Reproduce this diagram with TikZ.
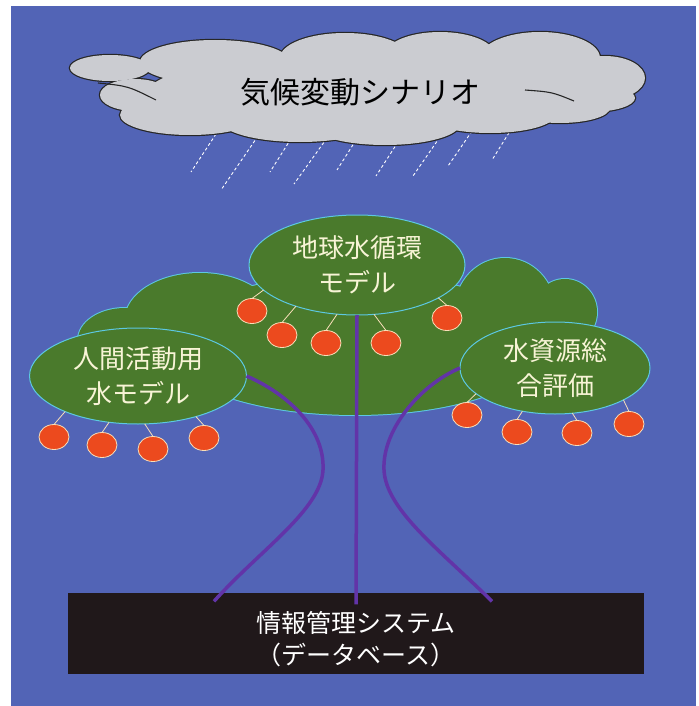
\documentclass[tikz,border=0pt]{standalone}
\usepackage{fontspec}
\newfontfamily\jpfont{Noto Sans CJK JP}
\usetikzlibrary{shapes.geometric}

\definecolor{bgblue}{RGB}{82,100,182}
\definecolor{leaf}{RGB}{74,122,44}
\definecolor{rim}{RGB}{92,200,226}
\definecolor{cloudgray}{RGB}{203,204,209}
\definecolor{bark}{RGB}{98,52,168}
\definecolor{fruit}{RGB}{236,74,30}
\definecolor{peel}{RGB}{248,222,184}
\definecolor{cream}{RGB}{248,244,214}
\definecolor{dbfill}{RGB}{32,24,26}

% lobes of the cloud and of the tree top: x/y/x radius/y radius
\newcommand\cloudlobes{110/68/40/13, 135/95/35/16, 215/62/75/22, 345/58/65/25,
	440/55/55/23, 540/58/60/26, 605/78/40/22, 590/98/45/14, 190/115/70/20,
	300/120/80/22, 385/124/75/21, 490/115/65/18, 560/108/50/15, 370/90/220/35}
\newcommand\leaflobes{125/340/47/32, 200/320/75/47, 355/345/190/70,
	505/310/50/52, 565/312/32/33, 540/345/50/35}

\begin{document}
\begin{tikzpicture}[x=1pt,y=-1pt,
	model/.style={ellipse, draw=rim, line width=1pt, fill=leaf, inner sep=0, outer sep=0, text=cream, font=\jpfont\fontsize{26}{35}\selectfont, align=center},
	apple/.style={ellipse, draw=peel, line width=0.8pt, fill=fruit, minimum width=30pt, minimum height=25pt, inner sep=0, outer sep=0},
	stem/.style={draw=peel, line width=0.8pt},
	trunk/.style={draw=bark, line width=3.5pt},
	rain/.style={white, line width=0.9pt, dash pattern=on 3pt off 2.5pt},
	dbase/.style={rectangle, fill=dbfill, minimum width=576pt, minimum height=81pt, inner sep=0},
	dbtext/.style={text=white, font=\jpfont\fontsize{25}{32}\selectfont, align=center}]

		\useasboundingbox (0,0) rectangle (698,706);
		\fill[bgblue] (11,6) rectangle (696,706);

		%rain
		\foreach \xa/\ya/\xb/\yb in {216/134/191/172, 258/136/221/190, 294/134/270/172,
			327/138/294/184, 356/140/337/170, 398/142/376/176, 440/137/413/176,
			472/131/448/166, 512/128/492/160} {
			\draw[rain] (\xa,\ya) -- (\xb,\yb);
		}

		%cloud
		\foreach \x/\y/\a/\b in \cloudlobes {
			\draw[black!85, line width=2.4pt] (\x,\y) ellipse [x radius=\a pt, y radius=\b pt];
		}
		\foreach \x/\y/\a/\b in \cloudlobes {
			\fill[cloudgray] (\x,\y) ellipse [x radius=\a pt, y radius=\b pt];
		}
		\draw[black!85, line width=1.1pt] (98,83) .. controls (128,86) .. (156,100);
		\draw[black!85, line width=1.1pt] (525,90) .. controls (552,92) .. (574,101);
		\node[font=\jpfont\fontsize{30}{30}\selectfont] at (360,92) (scen) {気候変動シナリオ};

		%tree top
		\foreach \x/\y/\a/\b in \leaflobes {
			\draw[rim, line width=2pt] (\x,\y) ellipse [x radius=\a pt, y radius=\b pt];
		}
		\foreach \x/\y/\a/\b in \leaflobes {
			\fill[leaf] (\x,\y) ellipse [x radius=\a pt, y radius=\b pt];
		}

		%models
		\node[model, minimum width=216pt, minimum height=100pt] at (357,265) (gwc) {地球水循環\\モデル};
		\node[model, minimum width=217pt, minimum height=96pt] at (138,376) (hum) {人間活動用\\水モデル};
		\node[model, minimum width=190pt, minimum height=92pt] at (555,368) (wres) {水資源総\\合評価};

		%apples
		\foreach \p/\x/\y/\a [count=\k] in {gwc/252/311/195, gwc/282/335/214, gwc/326/343/248,
			gwc/386/343/289, gwc/447/318/338, hum/54/437/206, hum/102/445/238, hum/153/449/278,
			hum/204/438/325, wres/467/415/198, wres/517/432/233, wres/577/433/291, wres/629/424/335} {
			\node[apple] at (\x,\y) (apple\k) {};
			\draw[stem] (\p.\a) -- (apple\k.north);
		}

		%database
		\node[dbase] at (356,633) (db) {};
		\node[dbtext] at ([yshift=-6pt]db.center) (dblab) {情報管理システム\\（データベース）};

		%trunk
		\draw[trunk] (gwc.south) -- ([yshift=-12pt]db.north);
		\draw[trunk] (hum.east) .. controls (290,395) and (325,430) .. (323,470)
			.. controls (321,510) and (260,550) .. ([xshift=-142pt,yshift=-9pt]db.north);
		\draw[trunk] (wres.west) .. controls (420,385) and (382,430) .. (384,470)
			.. controls (386,510) and (440,550) .. ([xshift=136pt,yshift=-9pt]db.north);
	\end{tikzpicture}
\end{document}
